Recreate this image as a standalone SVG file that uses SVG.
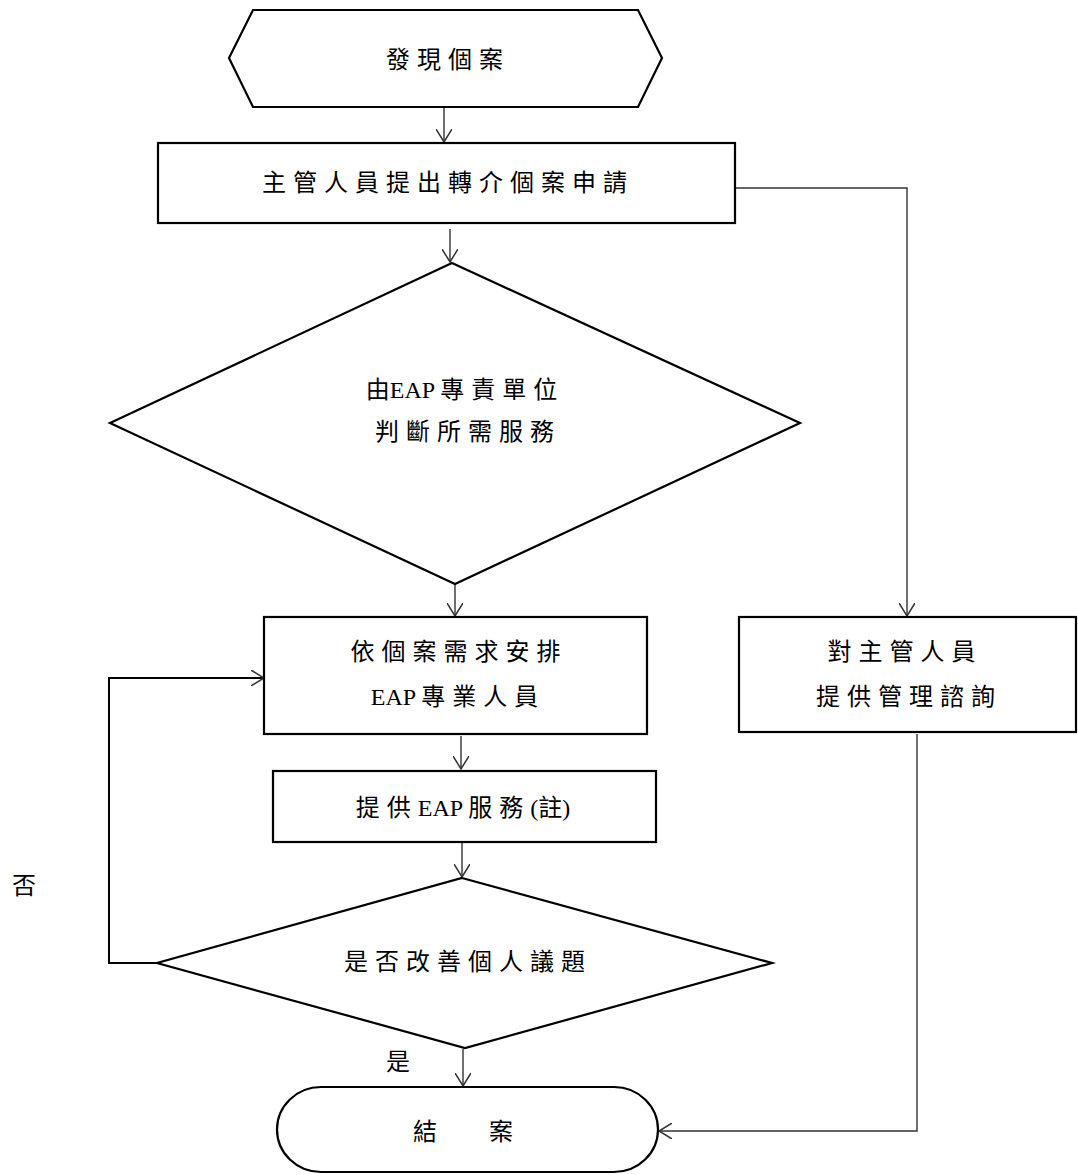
<svg xmlns="http://www.w3.org/2000/svg" width="1078" height="1175" viewBox="0 0 1078 1175">
<defs>
<style>
.shape{fill:#fff;stroke:#000;stroke-width:2.2}
.conn{fill:none;stroke:#333;stroke-width:1.4}
text{font-family:"Liberation Serif","Noto Sans CJK TC",serif;font-size:24px;fill:#000;text-anchor:middle;dominant-baseline:central}
.sp{letter-spacing:7px}
</style>
<marker id="arr" viewBox="0 0 14 16" refX="13" refY="8" markerWidth="14" markerHeight="16" markerUnits="userSpaceOnUse" orient="auto">
<path d="M0,0 L13,8 L0,16" fill="none" stroke="#333" stroke-width="1.5"/>
</marker>
</defs>
<rect width="1078" height="1175" fill="#fff"/>
<g id="connectors">
<line class="conn" x1="444" y1="108" x2="444" y2="142" marker-end="url(#arr)"/>
<line class="conn" x1="450" y1="229" x2="450" y2="262" marker-end="url(#arr)"/>
<line class="conn" x1="455" y1="585" x2="455" y2="616" marker-end="url(#arr)"/>
<line class="conn" x1="461" y1="736" x2="461" y2="769" marker-end="url(#arr)"/>
<line class="conn" x1="462" y1="843" x2="462" y2="877" marker-end="url(#arr)"/>
<line class="conn" x1="463" y1="1049" x2="463" y2="1086" marker-end="url(#arr)"/>
<polyline class="conn" points="736,188 907,188 907,616" marker-end="url(#arr)"/>
<polyline class="conn" points="917,734 917,1131 659,1131" marker-end="url(#arr)"/>
<polyline class="conn" style="stroke:#000;stroke-width:2" points="157,963 109,963 109,678 264,678" marker-end="url(#arr)"/>
</g>
<g id="n-start">
<polygon class="shape" points="229,58 253,10 638,10 662,58 638,107 253,107"/>
<text class="sp" x="448" y="60">發現個案</text>
</g>
<g id="n-apply">
<rect class="shape" x="158" y="143" width="577" height="80"/>
<text class="sp" x="448" y="183">主管人員提出轉介個案申請</text>
</g>
<g id="n-judge">
<polygon class="shape" points="452,263 800,423 455,584 110,423"/>
<text x="465" y="390"><tspan>由EAP </tspan><tspan class="sp">專責單位</tspan></text>
<text class="sp" x="468" y="432">判斷所需服務</text>
</g>
<g id="n-arrange">
<rect class="shape" x="264" y="617" width="383" height="117"/>
<text class="sp" x="459" y="652">依個案需求安排</text>
<text x="458" y="697"><tspan>EAP  </tspan><tspan class="sp">專業人員</tspan></text>
</g>
<g id="n-consult">
<rect class="shape" x="739" y="617" width="337" height="115"/>
<text class="sp" x="905" y="652">對主管人員</text>
<text class="sp" x="909" y="697">提供管理諮詢</text>
</g>
<g id="n-service">
<rect class="shape" x="273" y="771" width="383" height="71"/>
<text x="463" y="808"><tspan class="sp">提供</tspan><tspan>EAP </tspan><tspan class="sp">服務</tspan><tspan>(註)</tspan></text>
</g>
<g id="n-improve">
<polygon class="shape" points="462,878 772,963 465,1048 157,963"/>
<text class="sp" x="468" y="962">是否改善個人議題</text>
</g>
<g id="n-end">
<rect class="shape" x="277" y="1087" width="381" height="85" rx="44" ry="43"/>
<text x="470" y="1132" style="letter-spacing:14px">結　案</text>
</g>
<g id="labels">
<text x="24" y="886">否</text>
<text x="398" y="1062">是</text>
</g>
</svg>
